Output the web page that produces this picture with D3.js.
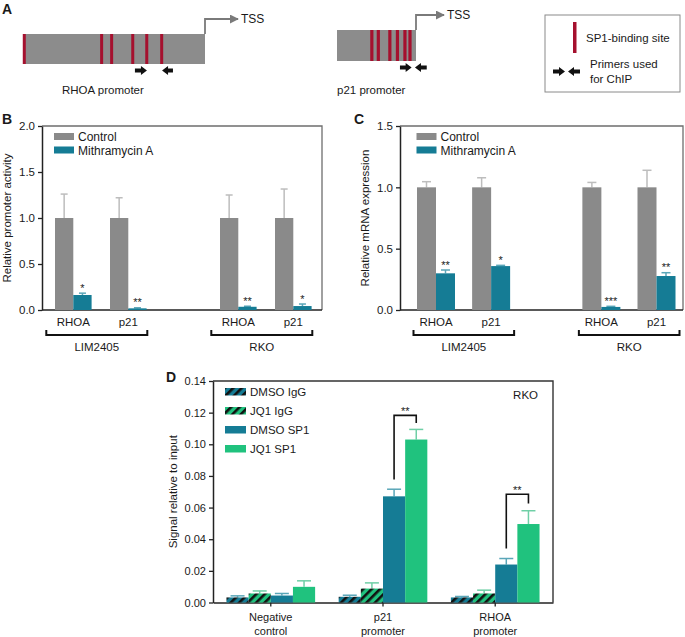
<!DOCTYPE html>
<html><head><meta charset="utf-8">
<script src="https://cdn.jsdelivr.net/npm/d3@7"></script>
<style>
body{margin:0;background:#fff}
svg{display:block}
text{font-family:"Liberation Sans",Arial,Helvetica,sans-serif;fill:#1a1a1a}
</style></head><body>
<svg id="c" width="685" height="637"></svg>
<script>
// ---------- DATA ----------
// Panel A: SP1 sites and primers as fractions of promoter length
const rhoaSites = [0.007, 0.432, 0.487, 0.603, 0.68, 0.762];
const rhoaPrimers = [[0.615, 0.681], [0.824, 0.764]];
const p21Sites = [0.441, 0.523, 0.669, 0.765, 0.86, 0.924];
const p21Primers = [[0.797, 0.945], [1.136, 0.987]];

// Panel B: relative promoter activity
const bCategories = ["RHOA", "p21", "RHOA", "p21"];
const bCellLines = ["LIM2405", "RKO"];
const bControl = [1, 1, 1, 1];
const bControlErr = [0.26, 0.22, 0.25, 0.315];
const bMith = [0.163, 0.018, 0.035, 0.043];
const bMithErr = [0.02, 0.006, 0.006, 0.022];
const bStars = ["*", "**", "**", "*"];
const bTicks = [0, 0.5, 1.0, 1.5, 2.0];

// Panel C: relative mRNA expression
const cCategories = ["RHOA", "p21", "RHOA", "p21"];
const cCellLines = ["LIM2405", "RKO"];
const cControl = [1, 1, 1, 1];
const cControlErr = [0.046, 0.078, 0.04, 0.139];
const cMith = [0.299, 0.358, 0.025, 0.277];
const cMithErr = [0.027, 0.006, 0.005, 0.027];
const cStars = ["**", "*", "***", "**"];
const cTicks = [0, 0.5, 1.0, 1.5];

// Panel D: ChIP signal relative to input
const dGroups = [["Negative", "control"], ["p21", "promoter"], ["RHOA", "promoter"]];
const dSeries = ["DMSO IgG", "JQ1 IgG", "DMSO SP1", "JQ1 SP1"];
const dDmsoIgG = [0.0032, 0.0036, 0.0032];
const dDmsoIgGErr = [0.001, 0.001, 0.0006];
const dJq1IgG = [0.0057, 0.0088, 0.0057];
const dJq1IgGErr = [0.0016, 0.0036, 0.0021];
const dDmsoSp1 = [0.0044, 0.0671, 0.024];
const dDmsoSp1Err = [0.0013, 0.0045, 0.0038];
const dJq1Sp1 = [0.0099, 0.103, 0.0496];
const dJq1Sp1Err = [0.0038, 0.0064, 0.0084];
const dTicks = [0, 0.02, 0.04, 0.06, 0.08, 0.10, 0.12, 0.14];
// significance brackets: group, left leg bottom, top, right leg bottom
const dSig = [{g: 1, left: 0.0777, top: 0.1183, right: 0.1134, label: "**"},
              {g: 2, left: 0.0341, top: 0.0684, right: 0.0625, label: "**"}];

// ---------- STYLE ----------
const GRAY = "#8a8a8a", TEAL = "#157c95", GREEN = "#20c27e", RED = "#a5102e";
const GRAY_ERR = "#bdbdbd", TEAL_ERR = "#5aa6b8", GREEN_ERR = "#6fcfa6";

const svg = d3.select("#c");
const defs = svg.append("defs");
function hatch(id, color) {
  const p = defs.append("pattern").attr("id", id).attr("patternUnits", "userSpaceOnUse")
    .attr("width", 6).attr("height", 6).attr("patternTransform", "rotate(45)");
  p.append("rect").attr("width", 6).attr("height", 6).attr("fill", color);
  p.append("rect").attr("x", 0).attr("width", 2.6).attr("height", 6).attr("fill", "#111");
}
hatch("hTeal", TEAL);
hatch("hGreen", GREEN);
defs.append("marker").attr("id", "tssArrow").attr("viewBox", "0 0 10 10").attr("refX", 9).attr("refY", 5)
  .attr("markerWidth", 5).attr("markerHeight", 5).attr("orient", "auto")
  .append("path").attr("d", "M0,0 L10,5 L0,10 Z").attr("fill", "#7a7a7a");

function label(t, x, y, size, opts = {}) {
  const e = svg.append("text").attr("x", x).attr("y", y).attr("font-size", size).text(t);
  if (opts.anchor) e.attr("text-anchor", opts.anchor);
  if (opts.bold) e.attr("font-weight", "bold");
  if (opts.rotate) e.attr("transform", `rotate(-90,${x},${y})`);
  return e;
}
function primerArrow(g, xTail, xTip, y) {
  const d = Math.sign(xTip - xTail), hb = xTip - d * 6;
  g.append("path").attr("fill", "#111").attr("d",
    `M${xTail},${y - 2} L${hb},${y - 2} L${hb},${y - 4.5} L${xTip},${y} L${hb},${y + 4.5} L${hb},${y + 2} L${xTail},${y + 2} Z`);
}

// ---------- PANEL A ----------
function promoter(x0, x1, y0, y1, sites, primers, siteW, tssLen, tssText, name) {
  const g = svg.append("g");
  const s = d3.scaleLinear().domain([0, 1]).range([x0, x1]);
  g.append("rect").attr("x", x0).attr("y", y0).attr("width", x1 - x0).attr("height", y1 - y0).attr("fill", "#8c8c8c");
  g.selectAll(".site").data(sites).join("rect").attr("x", d => s(d) - siteW / 2).attr("y", y0)
    .attr("width", siteW).attr("height", y1 - y0).attr("fill", RED);
  g.append("path").attr("d", `M${x1},${y0} V${y0 - 15} H${x1 + tssLen}`).attr("fill", "none")
    .attr("stroke", "#7a7a7a").attr("stroke-width", 1.8).attr("marker-end", "url(#tssArrow)");
  label("TSS", x1 + tssLen + 3, y0 - 11, 12);
  primers.forEach(p => primerArrow(g, s(p[0]), s(p[1]), y1 + 6.5));
  label(name, x0 + (name.startsWith("RHOA") ? 39 : 0), 94, 11.5);
}
label("A", 2, 14, 14, {bold: true});
promoter(23, 205, 34, 64, rhoaSites, rhoaPrimers, 3, 33, "TSS", "RHOA promoter");
promoter(337, 416, 30, 61, p21Sites, p21Primers, 3.2, 28, "TSS", "p21 promoter");
// legend box
svg.append("rect").attr("x", 545).attr("y", 15).attr("width", 135).attr("height", 77)
  .attr("fill", "none").attr("stroke", "#8a8a8a").attr("stroke-width", 1);
svg.append("rect").attr("x", 573).attr("y", 22).attr("width", 3.5).attr("height", 31).attr("fill", RED);
label("SP1-binding site", 586, 42, 11.5);
primerArrow(svg, 553, 565, 71.5);
primerArrow(svg, 580, 568, 71.5);
label("Primers used", 590, 68, 11.5);
label("for ChIP", 590, 82.5, 11.5);

// ---------- PANELS B & C ----------
function panelBC(o) {
  const g = svg.append("g");
  const y = d3.scaleLinear().domain([0, o.ymax]).range([o.y1, o.y0]);
  const x = d3.scalePoint().domain(d3.range(5)).range([o.x0 + o.inL, o.x1 - o.inR]);
  const slots = [0, 1, 3, 4];
  const bw = o.bw;
  g.append("path").attr("d", `M${o.x0},${o.y0} H${o.x1} V${o.y1}`).attr("fill", "none")
    .attr("stroke", "#6e6e6e").attr("stroke-width", 1.3);
  const ax = g.append("g").attr("transform", `translate(${o.x0},0)`)
    .call(d3.axisLeft(y).tickValues(o.ticks).tickFormat(d3.format(".1f")).tickSize(4).tickSizeOuter(0).tickPadding(3));
  ax.select(".domain").attr("stroke", "#222").attr("stroke-width", 1.5);
  ax.selectAll(".tick line").attr("stroke", "#222").attr("stroke-width", 1.3);
  ax.selectAll(".tick text").attr("font-size", 11.5).attr("fill", "#1a1a1a")
    .attr("font-family", "Liberation Sans, Arial, sans-serif");
  g.append("line").attr("x1", o.x0).attr("x2", o.x1).attr("y1", o.y1).attr("y2", o.y1)
    .attr("stroke", "#222").attr("stroke-width", 1.5);
  const rows = o.control.map((v, i) => ({i, c: v, ce: o.controlErr[i], m: o.mith[i], me: o.mithErr[i], xs: x(slots[i])}));
  rows.forEach(r => {
    [[r.xs - bw / 2, r.c, r.ce, GRAY_ERR], [r.xs + bw / 2, r.m, r.me, TEAL_ERR]].forEach(([cx, v, e, col]) => {
      g.append("line").attr("x1", cx).attr("x2", cx).attr("y1", y(v)).attr("y2", y(v + e)).attr("stroke", col).attr("stroke-width", 1.5);
      g.append("line").attr("x1", cx - o.cap / 2).attr("x2", cx + o.cap / 2).attr("y1", y(v + e)).attr("y2", y(v + e)).attr("stroke", col).attr("stroke-width", 1.5);
    });
  });
  g.selectAll(".ctrl").data(rows).join("rect").attr("x", r => r.xs - bw).attr("width", bw)
    .attr("y", r => y(r.c)).attr("height", r => o.y1 - y(r.c)).attr("fill", GRAY);
  g.selectAll(".mith").data(rows).join("rect").attr("x", r => r.xs).attr("width", bw)
    .attr("y", r => y(r.m)).attr("height", r => o.y1 - y(r.m)).attr("fill", TEAL);
  rows.forEach(r => {
    label(o.stars[r.i], r.xs + bw / 2, y(r.m + r.me) - 1.5, 11, {anchor: "middle"});
    label(o.cats[r.i], r.xs, o.y1 + 16, 11.5, {anchor: "middle"});
  });
  o.cells.forEach((c, k) => {
    const xa = x(slots[2 * k]) - o.brL, xb = x(slots[2 * k + 1]) + o.brR, by = o.y1 + 25;
    g.append("path").attr("d", `M${xa},${by - 5} V${by} H${xb} V${by - 5}`).attr("fill", "none")
      .attr("stroke", "#111").attr("stroke-width", 2);
    label(c, (xa + xb) / 2, by + 16, 11.5, {anchor: "middle"});
  });
  const lx = o.x0 + o.legX;
  [["Control", GRAY, 133], ["Mithramycin A", TEAL, 146.5]].forEach(([t, col, yy]) => {
    g.append("rect").attr("x", lx).attr("y", yy).attr("width", 20).attr("height", 7).attr("fill", col);
    label(t, lx + 24, yy + 8, 12);
  });
  label(o.title, o.titleX, (o.y0 + o.y1) / 2, 11.5, {anchor: "middle", rotate: true});
  label(o.letter, o.letterX, 124, 14, {bold: true});
}
panelBC({x0: 42, x1: 322, y0: 126, y1: 310, ymax: 2.0, ticks: bTicks, inL: 31.3, inR: 28.7, bw: 18.3, cap: 7,
  control: bControl, controlErr: bControlErr, mith: bMith, mithErr: bMithErr, stars: bStars,
  cats: bCategories, cells: bCellLines, brL: 27, brR: 19, legX: 12, title: "Relative promoter activity",
  titleX: 11, letter: "B", letterX: 2});
panelBC({x0: 400, x1: 683, y0: 126, y1: 310, ymax: 1.5, ticks: cTicks, inL: 36, inR: 26.5, bw: 19, cap: 9,
  control: cControl, controlErr: cControlErr, mith: cMith, mithErr: cMithErr, stars: cStars,
  cats: cCategories, cells: cCellLines, brL: 22.5, brR: 23, legX: 16.5, title: "Relative mRNA expression",
  titleX: 369, letter: "C", letterX: 354});

// ---------- PANEL D ----------
(function () {
  const x0 = 213, x1 = 553, y0 = 381, y1 = 602.5;
  const g = svg.append("g");
  const y = d3.scaleLinear().domain([0, 0.14]).range([y1, y0]);
  const x = d3.scaleBand().domain(d3.range(dGroups.length)).range([x0, x1]).paddingInner(0.21).paddingOuter(0.12);
  const xs = d3.scaleBand().domain(dSeries).range([0, x.bandwidth()]);
  g.append("path").attr("d", `M${x0},${y0} H${x1} V${y1}`).attr("fill", "none").attr("stroke", "#333").attr("stroke-width", 1.4);
  const ax = g.append("g").attr("transform", `translate(${x0},0)`)
    .call(d3.axisLeft(y).tickValues(dTicks).tickFormat(d3.format(".2f")).tickSize(4).tickSizeOuter(0).tickPadding(3));
  ax.select(".domain").attr("stroke", "#222").attr("stroke-width", 1.5);
  ax.selectAll(".tick line").attr("stroke", "#222").attr("stroke-width", 1.3);
  ax.selectAll(".tick text").attr("font-size", 11).attr("fill", "#1a1a1a").attr("font-family", "Liberation Sans, Arial, sans-serif");
  const bx = g.append("g").attr("transform", `translate(0,${y1})`)
    .call(d3.axisBottom(x).tickSize(4).tickSizeOuter(0).tickFormat(""));
  bx.select(".domain").attr("stroke", "#222").attr("stroke-width", 1.5);
  bx.selectAll(".tick line").attr("stroke", "#222").attr("stroke-width", 1.3);
  const series = [
    {name: dSeries[0], v: dDmsoIgG, e: dDmsoIgGErr, fill: "url(#hTeal)", ec: TEAL_ERR},
    {name: dSeries[1], v: dJq1IgG, e: dJq1IgGErr, fill: "url(#hGreen)", ec: GREEN_ERR},
    {name: dSeries[2], v: dDmsoSp1, e: dDmsoSp1Err, fill: TEAL, ec: TEAL_ERR},
    {name: dSeries[3], v: dJq1Sp1, e: dJq1Sp1Err, fill: GREEN, ec: GREEN_ERR}];
  const cap = 14;
  series.forEach(s => {
    s.v.forEach((v, gi) => {
      const cx = x(gi) + xs(s.name) + xs.bandwidth() / 2;
      const te = y(v + s.e[gi]);
      g.append("line").attr("x1", cx).attr("x2", cx).attr("y1", y(v)).attr("y2", te).attr("stroke", s.ec).attr("stroke-width", 1.5);
      g.append("line").attr("x1", cx - cap / 2).attr("x2", cx + cap / 2).attr("y1", te).attr("y2", te).attr("stroke", s.ec).attr("stroke-width", 1.5);
    });
    g.selectAll(null).data(s.v).join("rect").attr("x", (d, gi) => x(gi) + xs(s.name)).attr("width", xs.bandwidth())
      .attr("y", d => y(d)).attr("height", d => y1 - y(d)).attr("fill", s.fill);
  });
  dSig.forEach(b => {
    const xa = x(b.g) + xs(dSeries[2]) + xs.bandwidth() / 2, xb = x(b.g) + xs(dSeries[3]) + xs.bandwidth() / 2;
    g.append("path").attr("d", `M${xa},${y(b.left)} V${y(b.top)} H${xb} V${y(b.right)}`).attr("fill", "none")
      .attr("stroke", "#111").attr("stroke-width", 1.6);
    label(b.label, (xa + xb) / 2, y(b.top) - 0.5, 11, {anchor: "middle"});
  });
  dGroups.forEach((lines, gi) => {
    lines.forEach((t, li) => label(t, x(gi) + x.bandwidth() / 2, y1 + 18.5 + li * 13.5, 11, {anchor: "middle"}));
  });
  series.forEach((s, i) => {
    const yy = 388 + i * 19;
    g.append("rect").attr("x", 225).attr("y", yy).attr("width", 21).attr("height", 7.5).attr("fill", s.fill);
    label(s.name, 250, yy + 8, 11.5);
  });
  label("RKO", 538, 399, 11.5, {anchor: "end"});
  label("Signal relative to input", 177, (y0 + y1) / 2, 11.5, {anchor: "middle", rotate: true});
  label("D", 166, 382, 14, {bold: true});
})();
</script>
</body></html>
